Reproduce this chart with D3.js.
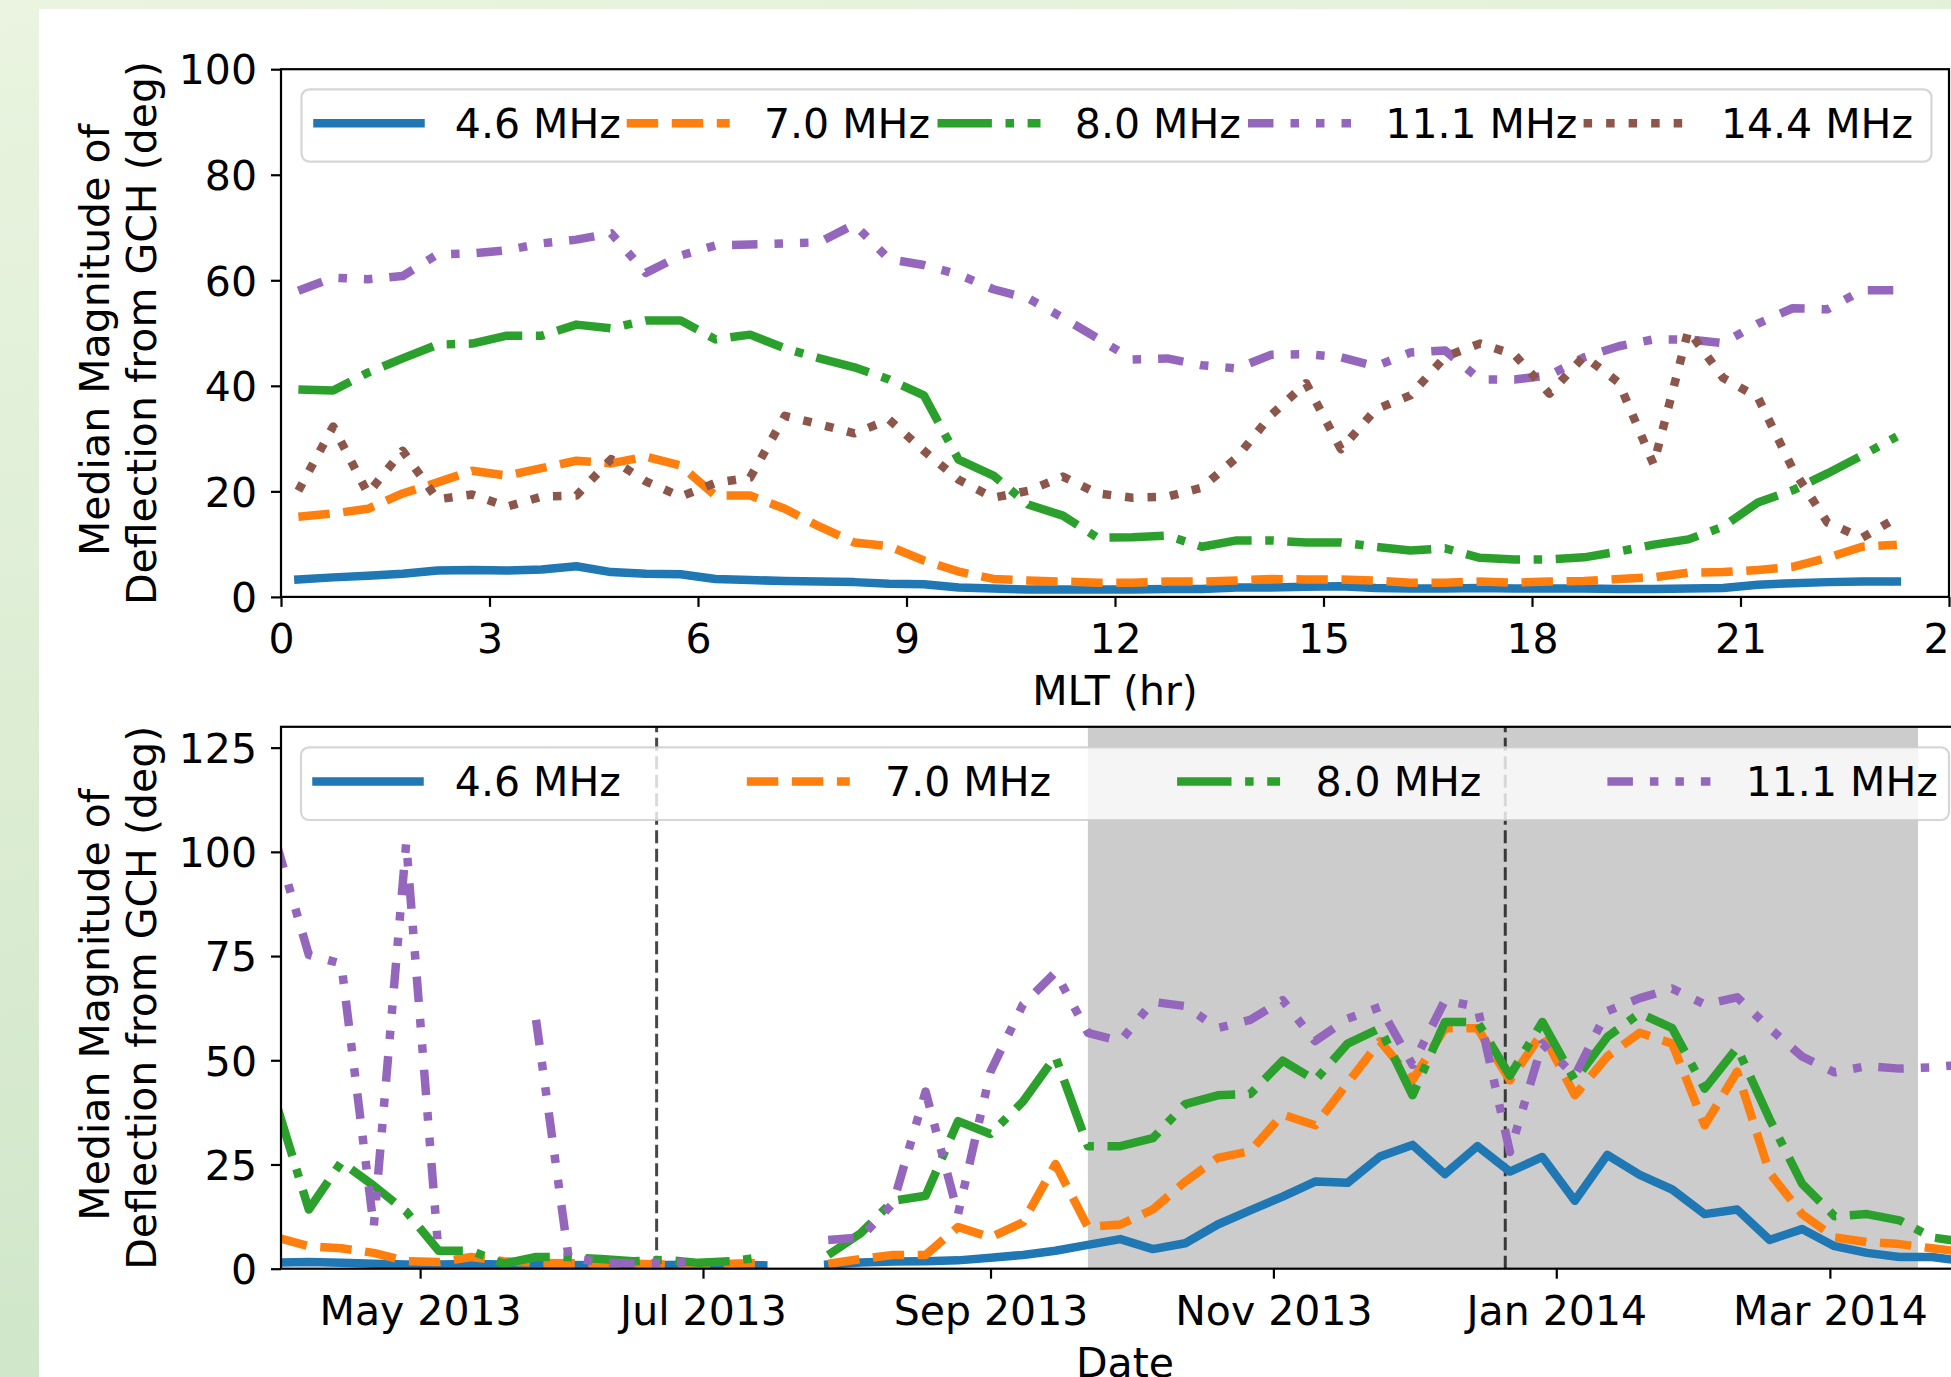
<!DOCTYPE html>
<html><head><meta charset="utf-8">
<script src="https://cdn.jsdelivr.net/npm/d3@7"></script>
<style>
body{margin:0;background:#fff;}
svg{display:block;}
text{font-family:"DejaVu Sans";}
</style>
</head><body>
<svg id="c" width="1951" height="1377"></svg>
<script>
// ---------------- DATA ----------------
const seriesNames = ["4.6 MHz","7.0 MHz","8.0 MHz","11.1 MHz","14.4 MHz"];
const seriesColors = ["#1f77b4","#ff7f0e","#2ca02c","#9467bd","#8c564b"];

// top panel: MLT bin centers (hr)
const mlt = [0.25,0.75,1.25,1.75,2.25,2.75,3.25,3.75,4.25,4.75,5.25,5.75,6.25,6.75,7.25,7.75,8.25,8.75,9.25,9.75,
  10.25,10.75,11.25,11.75,12.25,12.75,13.25,13.75,14.25,14.75,15.25,15.75,16.25,16.75,17.25,17.75,18.25,18.75,19.25,19.75,
  20.25,20.75,21.25,21.75,22.25,22.75,23.25];
const top46 = [3.3,3.7,4.0,4.4,5.0,5.1,5.0,5.2,5.8,4.7,4.4,4.3,3.4,3.2,3.0,2.9,2.8,2.5,2.4,1.8,
  1.6,1.4,1.4,1.4,1.4,1.5,1.5,1.8,1.8,1.9,2.0,1.7,1.6,1.6,1.7,1.6,1.6,1.6,1.5,1.5,1.6,1.7,2.3,2.6,2.8,2.9,2.9];
const top70 = [15.2,15.8,16.7,19.6,21.7,23.9,23.0,24.4,25.8,25.3,26.6,24.9,19.2,19.2,16.7,13.3,10.3,9.6,6.9,4.8,
  3.4,3.1,2.9,2.7,2.7,2.9,2.9,3.1,3.4,3.3,3.3,3.1,2.7,2.7,2.9,2.7,2.9,3.0,3.4,3.7,4.6,4.7,5.1,5.7,7.4,9.5,9.9];
const top80 = [39.3,39.1,42.5,45.2,47.8,48.0,49.5,49.5,51.6,50.9,52.4,52.4,48.8,49.7,47.1,45.2,43.5,41.2,38.2,26.0,
  23.0,17.5,15.4,11.2,11.3,11.6,9.5,10.7,10.7,10.3,10.3,9.5,8.8,9.2,7.4,7.1,7.1,7.5,8.6,9.9,10.9,13.3,17.9,20.2,23.4,26.8,30.4];
const top111 = [58.0,60.5,60.2,60.8,64.9,65.1,65.7,67.0,67.7,68.9,61.4,64.7,66.6,66.8,67.0,67.2,70.6,64.0,62.9,61.1,
  58.3,56.6,52.9,49.0,45.0,45.2,43.9,43.3,45.9,46.0,45.4,43.7,46.3,46.7,41.2,41.2,42.0,45.4,47.5,48.8,48.8,48.1,51.8,54.7,54.5,58.1,58.1];
const top144 = [20.1,32.3,19.6,27.7,18.5,19.4,17.1,19.0,19.2,26.1,21.9,19.0,21.6,22.6,34.3,32.7,31.0,33.6,27.7,22.2,
  18.8,20.1,22.8,19.6,18.8,19.0,20.7,26.4,34.5,40.5,28.0,35.5,38.2,45.5,48.0,45.9,38.5,45.6,40.6,25.1,50.5,41.5,37.8,24.3,14.1,11.2,15.0];

const topXTicks = [0,3,6,9,12,15,18,21,24];
const topYTicks = [0,20,40,60,80,100];

// bottom panel: weekly dates
const weeks = ["2013-03-31","2013-04-07","2013-04-14","2013-04-21","2013-04-28","2013-05-05","2013-05-12","2013-05-19",
  "2013-05-26","2013-06-02","2013-06-09","2013-06-16","2013-06-23","2013-06-30","2013-07-07","2013-07-14","2013-07-21",
  "2013-07-28","2013-08-04","2013-08-11","2013-08-18","2013-08-25","2013-09-01","2013-09-08","2013-09-15","2013-09-22",
  "2013-09-29","2013-10-06","2013-10-13","2013-10-20","2013-10-27","2013-11-03","2013-11-10","2013-11-17","2013-11-24",
  "2013-12-01","2013-12-08","2013-12-15","2013-12-22","2013-12-29","2014-01-05","2014-01-12","2014-01-19","2014-01-26",
  "2014-02-02","2014-02-09","2014-02-16","2014-02-23","2014-03-02","2014-03-09","2014-03-16","2014-03-23","2014-03-30"];
const bot46 = [1.5,1.6,1.4,1.2,1.0,1.0,1.1,1.0,0.9,0.9,0.8,0.8,0.9,1.0,0.9,0.8,null,1.0,1.5,1.7,1.8,2.0,2.6,3.3,4.3,5.7,
  7.1,4.7,6.1,10.6,14.0,17.3,20.9,20.6,26.9,29.7,22.7,29.4,23.3,26.8,16.3,27.3,22.5,19.0,13.1,14.2,6.9,9.5,5.4,3.8,2.8,2.8,1.8];
const bot70 = [7.5,5.4,4.9,3.8,1.8,1.6,2.8,1.8,1.4,1.3,1.2,1.2,1.0,0.8,1.2,1.4,null,1.2,2.3,3.3,3.3,10.0,7.5,11.1,25.1,10.0,
  10.6,14.2,20.9,26.6,28.2,37.0,34.4,44.5,54.6,45.2,57.7,57.7,45.2,56.6,41.6,50.9,56.6,54.0,34.4,47.3,23.0,13.1,7.5,6.4,5.9,4.9,4.0];
const bot80 = [39.5,14.2,25.6,19.9,13.7,4.3,4.3,1.2,2.8,2.8,2.3,1.8,2.1,1.4,1.8,2.8,null,3.3,8.5,16.3,17.5,35.4,32.3,40.1,50.9,29.4,
  29.4,31.3,39.5,41.6,41.9,49.9,45.2,54.0,57.7,41.6,59.2,59.2,46.3,59.2,45.2,55.6,61.3,57.7,43.2,53.0,35.9,20.4,12.6,13.1,11.6,7.5,6.4];
const bot111 = [102,75.3,73.2,10.0,102.2,3.3,null,null,59.7,2.8,1.5,1.2,1.5,1.5,null,null,null,6.9,7.5,15.7,42.5,13.1,47.3,63.4,71.1,56.6,
  54.6,64.0,63.0,57.7,59.7,64.4,54.6,60.0,62.8,48.9,64.4,62.8,28.0,54.0,46.3,61.8,64.9,67.2,63.4,65.1,57.7,50.9,47.1,48.6,48.0,48.3,49.0];

const botXTicks = ["2013-05-01","2013-07-01","2013-09-01","2013-11-01","2014-01-01","2014-03-01"];
const botXLabels = ["May 2013","Jul 2013","Sep 2013","Nov 2013","Jan 2014","Mar 2014"];
const botYTicks = [0,25,50,75,100,125];
const solstices = ["2013-06-21","2013-12-21"];
const winterSpan = ["2013-09-22","2014-03-20"];

// ---------------- DRAWING ----------------
const FS = 41, LW = 8.5, SPW = 2.2;
const dashUnits = [null,[3.7,1.6],[6.4,1.6,1,1.6],[3,2,1,2,1,2],[1,1.65]];
const dashArr = dashUnits.map(d => d ? d.map(v => (v*LW).toFixed(2)).join(",") : null);

const svg = d3.select("#c");
const defs = svg.append("defs");
const grad = defs.append("linearGradient").attr("id","bg").attr("x1","0").attr("y1","0").attr("x2","0.25").attr("y2","1");
grad.append("stop").attr("offset","0").attr("stop-color","#eaf4e0");
grad.append("stop").attr("offset","1").attr("stop-color","#cfe6c8");
svg.append("rect").attr("width",1951).attr("height",1377).attr("fill","url(#bg)");
svg.append("rect").attr("x",39).attr("y",9).attr("width",1912).attr("height",1368).attr("fill","#fff");

function styleLine(sel, i) {
  sel.attr("fill","none").attr("stroke",seriesColors[i]).attr("stroke-width",LW)
    .attr("stroke-linejoin","round")
    .attr("stroke-linecap", dashArr[i] ? "butt" : "square");
  if (dashArr[i]) sel.attr("stroke-dasharray", dashArr[i]);
  return sel;
}
function styleAxis(g) {
  g.attr("font-size",FS).attr("font-family","DejaVu Sans");
  g.select(".domain").remove();
  g.selectAll(".tick line").attr("stroke","#000").attr("stroke-width",SPW);
  g.selectAll(".tick text").attr("fill","#000");
}
function yLabel(cy) {
  const lines = ["Median Magnitude of","Deflection from GCH (deg)"];
  const xs = [109.4, 156.3];
  const dy = [7, 0];
  lines.forEach((s,i) => {
    svg.append("text").attr("transform",`translate(${xs[i]},${cy+dy[i]}) rotate(-90)`)
      .attr("text-anchor","middle").attr("font-size",FS).attr("fill","#000").text(s);
  });
}

// ---- top panel ----
const T = {l:281, r:1949, t:69.2, b:596.9};
const xT = d3.scaleLinear().domain([0,24]).range([T.l,T.r]);
const yT = d3.scaleLinear().domain([0,100]).range([T.b,T.t]);
const topSeries = [top46, top70, top80, top111, top144];
const lineT = d3.line().x((d,i) => xT(mlt[i])).y(d => yT(d));
topSeries.forEach((arr,i) => {
  styleLine(svg.append("path").attr("d", lineT(arr)), i);
});
const gxT = svg.append("g").attr("transform",`translate(0,${T.b})`)
  .call(d3.axisBottom(xT).tickValues(topXTicks).tickFormat(d3.format("d")).tickSize(10).tickPadding(17.4));
styleAxis(gxT);
const gyT = svg.append("g").attr("transform",`translate(${T.l},0)`)
  .call(d3.axisLeft(yT).tickValues(topYTicks).tickFormat(d3.format("d")).tickSize(10).tickPadding(14));
styleAxis(gyT); gyT.selectAll(".tick text").attr("dy","0.36em");
svg.append("rect").attr("x",T.l).attr("y",T.t).attr("width",T.r-T.l).attr("height",T.b-T.t)
  .attr("fill","none").attr("stroke","#000").attr("stroke-width",SPW);
svg.append("text").attr("x",(T.l+T.r)/2).attr("y",T.b+108).attr("text-anchor","middle")
  .attr("font-size",FS).attr("fill","#000").text("MLT (hr)");
yLabel((T.t+T.b)/2);

// top legend
(function(){
  const g = svg.append("g");
  g.append("rect").attr("x",301.5).attr("y",89.3).attr("width",1630).attr("height",72.4).attr("rx",8)
    .attr("fill","rgba(255,255,255,0.8)").attr("stroke","rgba(204,204,204,0.8)").attr("stroke-width",SPW);
  const handleX = [317.5, 626.7, 937.5, 1248, 1583.6];
  seriesNames.forEach((s,i) => {
    const x = handleX[i];
    styleLine(g.append("line").attr("x1",x).attr("x2",x+103).attr("y1",123.3).attr("y2",123.3), i);
    g.append("text").attr("x",x+137.3).attr("y",137.8).attr("font-size",FS).attr("fill","#000").text(s);
  });
})();

// ---- bottom panel ----
const B = {l:281, r:1969, t:726.8, b:1268.7};
const parse = s => new Date(s + "T00:00:00Z");
const xB = d3.scaleUtc().domain([parse("2013-04-01"), parse("2014-03-31")]).range([B.l,B.r]);
const yB = d3.scaleLinear().domain([0,130]).range([B.b,B.t]);
defs.append("clipPath").attr("id","clipB").append("rect")
  .attr("x",B.l).attr("y",B.t).attr("width",B.r-B.l).attr("height",B.b-B.t);
const gB = svg.append("g").attr("clip-path","url(#clipB)");
gB.append("rect").attr("x",xB(parse(winterSpan[0]))).attr("y",B.t)
  .attr("width",xB(parse(winterSpan[1]))-xB(parse(winterSpan[0]))).attr("height",B.b-B.t).attr("fill","#cccccc");
solstices.forEach(s => {
  gB.append("line").attr("x1",xB(parse(s))).attr("x2",xB(parse(s))).attr("y1",B.b).attr("y2",B.t)
    .attr("stroke","rgba(0,0,0,0.72)").attr("stroke-width",3).attr("stroke-dasharray","13,5.5");
});
const weekDates = weeks.map(parse);
const botSeries = [bot46, bot70, bot80, bot111];
const lineB = d3.line().defined(d => d != null).x((d,i) => xB(weekDates[i])).y(d => yB(d));
botSeries.forEach((arr,i) => {
  styleLine(gB.append("path").attr("d", lineB(arr)), i);
});
const gxB = svg.append("g").attr("transform",`translate(0,${B.b})`)
  .call(d3.axisBottom(xB).tickValues(botXTicks.map(parse)).tickFormat((d,i) => botXLabels[i]).tickSize(10).tickPadding(17.4));
styleAxis(gxB);
const gyB = svg.append("g").attr("transform",`translate(${B.l},0)`)
  .call(d3.axisLeft(yB).tickValues(botYTicks).tickFormat(d3.format("d")).tickSize(10).tickPadding(14));
styleAxis(gyB); gyB.selectAll(".tick text").attr("dy","0.36em");
svg.append("rect").attr("x",B.l).attr("y",B.t).attr("width",B.r-B.l).attr("height",B.b-B.t)
  .attr("fill","none").attr("stroke","#000").attr("stroke-width",SPW);
svg.append("text").attr("x",(B.l+B.r)/2).attr("y",B.b+108).attr("text-anchor","middle")
  .attr("font-size",FS).attr("fill","#000").text("Date");
yLabel((B.t+B.b)/2);

// bottom legend (expanded, 4 columns)
(function(){
  const g = svg.append("g");
  g.append("rect").attr("x",301).attr("y",747.3).attr("width",1648).attr("height",72.7).attr("rx",8)
    .attr("fill","rgba(255,255,255,0.8)").attr("stroke","rgba(204,204,204,0.8)").attr("stroke-width",SPW);
  seriesNames.slice(0,4).forEach((s,i) => {
    const x = 316.5 + i*430.3;
    styleLine(g.append("line").attr("x1",x).attr("x2",x+103).attr("y1",781.6).attr("y2",781.6), i);
    g.append("text").attr("x",x+138.3).attr("y",796).attr("font-size",FS).attr("fill","#000").text(s);
  });
})();
</script>
</body></html>
